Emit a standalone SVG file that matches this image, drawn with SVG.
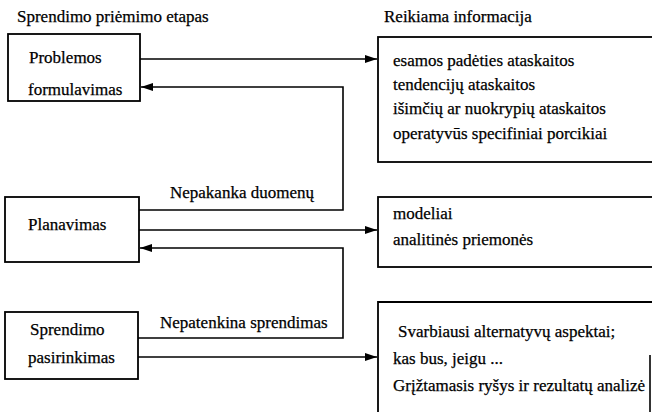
<svg xmlns="http://www.w3.org/2000/svg" width="652" height="412" viewBox="0 0 652 412">
<defs>
<marker id="ah" viewBox="0 0 12 8" refX="12" refY="4" markerWidth="12" markerHeight="8" markerUnits="userSpaceOnUse" orient="auto">
<path d="M0,0 L12,4 L0,8 Z" fill="#000"/>
</marker>
<style>
text{font-family:"Liberation Serif","Times New Roman",serif;font-size:17px;fill:#000;stroke:#000;stroke-width:0.25}
.box{fill:#fff;stroke:#000;stroke-width:1.8}
.ln{fill:none;stroke:#000;stroke-width:1.6}
</style>
</defs>
<rect width="652" height="412" fill="#fff"/>
<text x="17" y="22">Sprendimo priėmimo etapas</text>
<text x="384" y="22">Reikiama informacija</text>
<g id="connectors">
<path class="ln" d="M140,59 H377" marker-end="url(#ah)"/>
<path class="ln" d="M139,210 H343 V87 H141" marker-end="url(#ah)"/>
<path class="ln" d="M139,230 H377" marker-end="url(#ah)"/>
<path class="ln" d="M138,338 H343 V248 H140" marker-end="url(#ah)"/>
<path class="ln" d="M138,357 H377" marker-end="url(#ah)"/>
<text x="170" y="198">Nepakanka duomenų</text>
<text x="160" y="328">Nepatenkina sprendimas</text>
</g>
<g id="problemos">
<rect class="box" x="8" y="34" width="132" height="67"/>
<text x="29" y="63">Problemos</text>
<text x="28" y="95">formulavimas</text>
</g>
<g id="planavimas">
<rect class="box" x="5" y="197" width="134" height="65"/>
<text x="28" y="230">Planavimas</text>
</g>
<g id="pasirinkimas">
<rect class="box" x="5" y="312" width="133" height="67"/>
<text x="30" y="335">Sprendimo</text>
<text x="28" y="363">pasirinkimas</text>
</g>
<g id="info1">
<rect class="box" x="378" y="37" width="290" height="125"/>
<text x="393" y="66">esamos padėties ataskaitos</text>
<text x="393" y="90">tendencijų ataskaitos</text>
<text x="393" y="114">išimčių ar nuokrypių ataskaitos</text>
<text x="393" y="139">operatyvūs specifiniai porcikiai</text>
</g>
<g id="info2">
<rect class="box" x="378" y="197" width="290" height="70"/>
<text x="393" y="219">modeliai</text>
<text x="393" y="245">analitinės priemonės</text>
</g>
<g id="info3">
<path class="box" d="M378,420 V302 H660"/>
<path class="ln" d="M650,355 V412"/>
<text x="398" y="337">Svarbiausi alternatyvų aspektai;</text>
<text x="393" y="364">kas bus, jeigu ...</text>
<text x="393" y="391">Grįžtamasis ryšys ir rezultatų analizė</text>
</g>
</svg>
